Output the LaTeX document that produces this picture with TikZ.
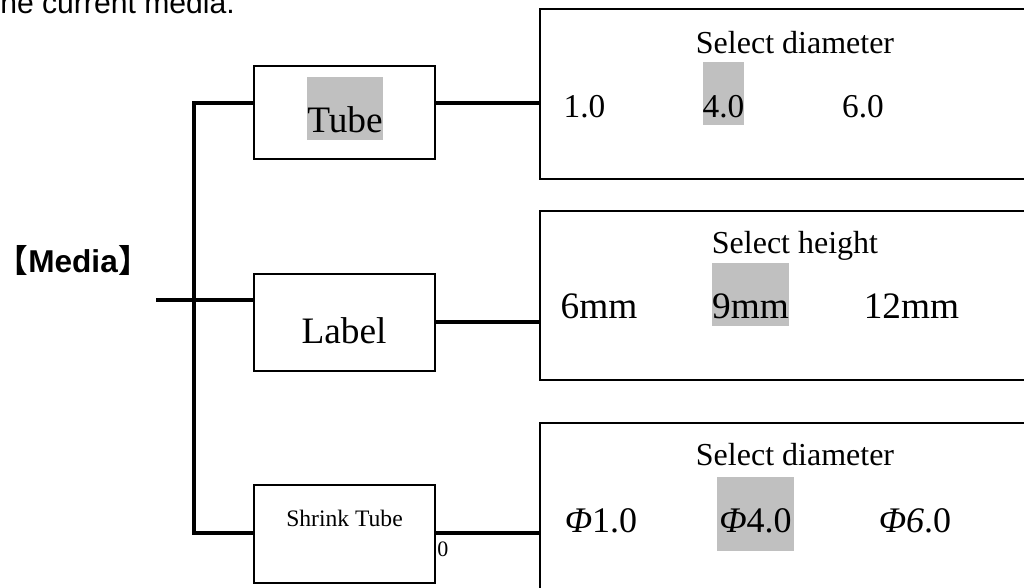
\documentclass[tikz,border=0pt]{standalone}
\usepackage{fontspec}
\setmainfont{Liberation Serif}
\newfontfamily\arialfont{Liberation Sans}
\newfontfamily\cjkfont{Noto Sans CJK SC}
\usepackage{xcolor}
\usetikzlibrary{calc,positioning}
\definecolor{hlgray}{HTML}{C0C0C0}

\begin{document}
\begin{tikzpicture}[x=0.75pt, y=-0.75pt,
  wire/.style={black, line width=3pt},
  typebox/.style={draw, line width=1.1pt, fill=white, minimum width=135.75pt, inner sep=0pt},
  panel/.style={draw, line width=1.5pt, fill=white, minimum width=375pt, inner sep=0pt},
  txt/.style={anchor=base, inner sep=0pt},
  hl/.style={fill=hlgray, inner sep=0pt, text height=41pt, text depth=6pt},
  big/.style={font=\fontsize{28}{32}\selectfont},
  mid/.style={font=\fontsize{25}{29}\selectfont},
  head/.style={font=\fontsize{24}{28}\selectfont}]
  \useasboundingbox (0,0) rectangle (1024,587);

  % boxes
  \node[typebox, minimum height=69.75pt] (tube) at (344.5,112.5) {};
  \node[typebox, minimum height=72.75pt] (label) at (344.5,322.4) {};
  \node[typebox, minimum height=73.5pt] (shrink) at (344.5,534) {};
  \node[panel, minimum height=127.5pt] (diampanel) at (790,94) {};
  \node[panel, minimum height=126.75pt] (heightpanel) at (790,295.5) {};
  \node[panel, minimum height=135pt] (sdiampanel) at (790,513) {};

  % connectors
  \coordinate (ttop) at (194,103);
  \coordinate (tbot) at (194,533);
  \coordinate (mstart) at (156,300);
  \draw[wire] (tube.west |- ttop) -- (ttop) -- (tbot) -- (shrink.west |- tbot);
  \draw[wire] (mstart) -- (label.west |- mstart);
  \draw[wire] (tube.east |- ttop) -- (diampanel.west |- ttop);
  \draw[wire] (label.east) -- (heightpanel.west |- label.east);
  \draw[wire] (shrink.east |- tbot) -- (sdiampanel.west |- tbot);

  % left side
  \node[font=\arialfont\fontsize{22.6}{26}\selectfont, anchor=base west, inner sep=0pt] (intro) at (0,13) {he current media.};
  \node[font=\arialfont\bfseries\fontsize{23.7}{27}\selectfont, anchor=base west, inner sep=0pt] (media) at (28,272) {Media};
  \node[font=\cjkfont\bfseries\fontsize{23.7}{27}\selectfont, anchor=base east, inner sep=0pt] (mleft) at (media.base west) {【};
  \node[font=\cjkfont\bfseries\fontsize{23.7}{27}\selectfont, anchor=base west, inner sep=0pt] (mright) at (media.base east) {】};

  % media types
  \node[txt, big, hl] (tubetxt) at (345,132) {Tube};
  \node[txt, big] (labeltxt) at (344,343) {Label};
  \node[txt, font=\fontsize{17.7}{20}\selectfont] (shrinktxt) at (344.5,526) {Shrink Tube};
  \node[anchor=base west, inner sep=0pt, font=\fontsize{16.5}{19}\selectfont] (stray) at (437,556) {0};

  % tube diameters
  \node[txt, head] (seldiam) at (795,53) {Select diameter};
  \node[txt, mid] (d1) at (584.5,117) {1.0};
  \node[txt, mid, hl] (d4) at (723.5,117) {4.0};
  \node[txt, mid] (d6) at (863,117) {6.0};

  % label heights
  \node[txt, head] (selheight) at (795,253) {Select height};
  \node[txt, big] (h6) at (599,318) {6mm};
  \node[txt, big, hl] (h9) at (750.5,318) {9mm};
  \node[txt, big] (h12) at (911.5,318) {12mm};

  % shrink tube diameters
  \node[txt, head] (selsdiam) at (795,465) {Select diameter};
  \node[txt, font=\fontsize{27}{31}\selectfont] (s1) at (601,532) {\textit{Φ}1.0};
  \node[txt, font=\fontsize{27}{31}\selectfont, hl, text depth=14pt, inner xsep=2pt] (s4) at (755.5,532) {\textit{Φ}4.0};
  \node[txt, font=\fontsize{27}{31}\selectfont] (s6) at (915,532) {\textit{Φ6}.0};
\end{tikzpicture}
\end{document}
